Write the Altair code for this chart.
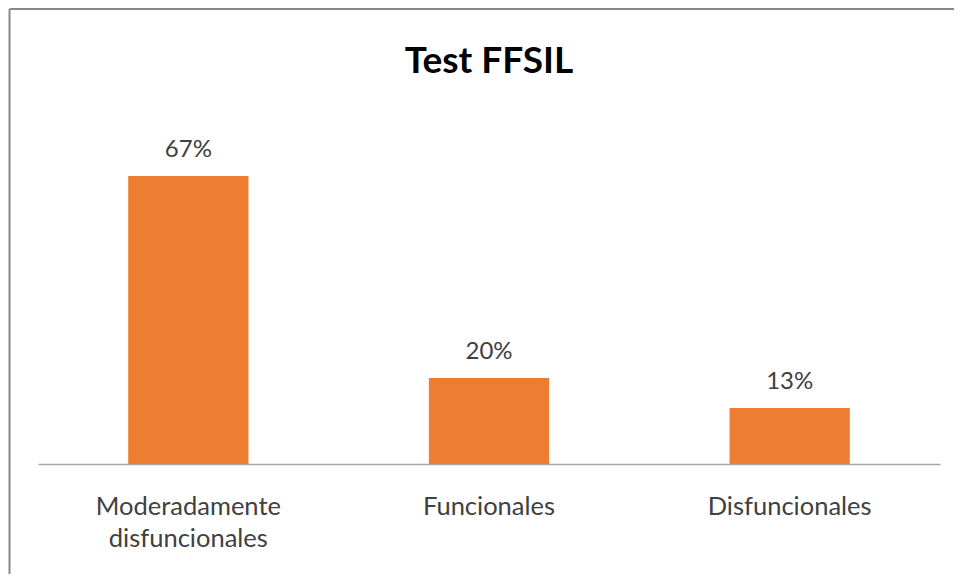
import altair as alt
import pandas as pd

categories = ["Moderadamente disfuncionales", "Funcionales", "Disfuncionales"]
values = [67, 20, 13]
labels = ["67%", "20%", "13%"]

df = pd.DataFrame({"cat": categories, "val": values, "lab": labels})

FONT = "Lato"
W, H = 902, 344

base = alt.Chart(df).encode(
    x=alt.X("cat:N", sort=categories,
            scale=alt.Scale(paddingInner=0.6, paddingOuter=0.3),
            axis=alt.Axis(title=None, labelAngle=0, ticks=False, domainColor="#A6A6A6",
                          domainWidth=1.5, labelFont=FONT, labelFontSize=25.5,
                          labelColor="#404040", labelPadding=30, labelLineHeight=32,
                          labelLimit=400,
                          labelExpr="split(datum.label, ' ')", grid=False)),
    y=alt.Y("val:Q", scale=alt.Scale(domain=[0, 80]), axis=None),
)

bars = base.mark_bar(color="#ED7D31")
text = base.mark_text(baseline="alphabetic", dy=-19, font=FONT, fontSize=24,
                      color="#404040").encode(text="lab:N")

frame = alt.Chart(pd.DataFrame({"a": [0]}))
top_line = frame.mark_rule(color="#888888", strokeWidth=2).encode(
    x=alt.value(-28.5), x2=alt.value(940), y=alt.value(-111))
left_line = frame.mark_rule(color="#888888", strokeWidth=2).encode(
    x=alt.value(-28.5), y=alt.value(-111), y2=alt.value(470))

chart = alt.layer(bars, text, top_line, left_line).properties(
    width=W, height=H,
    title=alt.TitleParams("Test FFSIL", font=FONT, fontSize=37, fontWeight="bold",
                          color="#000000", anchor="middle", frame="group",
                          baseline="alphabetic", offset=0, dy=102),
    autosize=alt.AutoSizeParams(type="none"),
    padding={"left": 30, "top": 112, "right": 14, "bottom": 110},
).configure_view(stroke=None)

chart.save("out.html", embed_options={"renderer": "svg", "actions": False})
